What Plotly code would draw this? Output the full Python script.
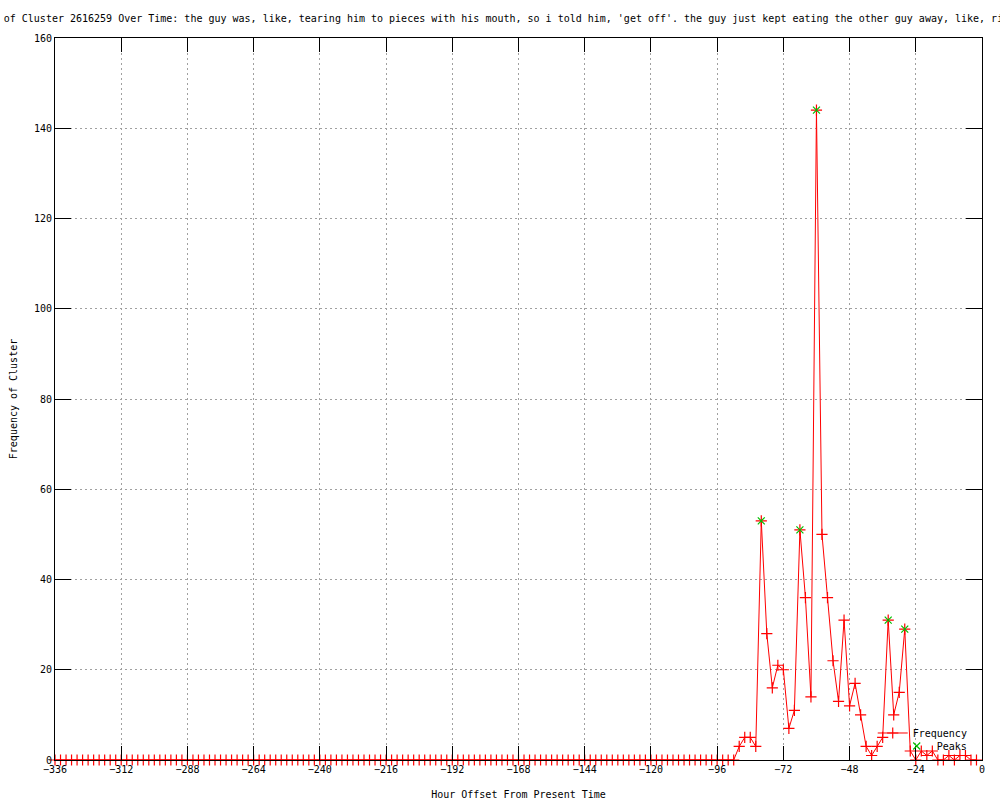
import plotly.graph_objects as go

# ---- data ----
hours = [-336, -334, -332, -330, -328, -326, -324, -322, -320, -318, -316, -314,
         -312, -310, -308, -306, -304, -302, -300, -298, -296, -294, -292, -290,
         -288, -286, -284, -282, -280, -278, -276, -274, -272, -270, -268, -266,
         -264, -262, -260, -258, -256, -254, -252, -250, -248, -246, -244, -242,
         -240, -238, -236, -234, -232, -230, -228, -226, -224, -222, -220, -218,
         -216, -214, -212, -210, -208, -206, -204, -202, -200, -198, -196, -194,
         -192, -190, -188, -186, -184, -182, -180, -178, -176, -174, -172, -170,
         -168, -166, -164, -162, -160, -158, -156, -154, -152, -150, -148, -146,
         -144, -142, -140, -138, -136, -134, -132, -130, -128, -126, -124, -122,
         -120, -118, -116, -114, -112, -110, -108, -106, -104, -102, -100, -98,
         -96, -94, -92, -90, -88, -86, -84, -82, -80, -78, -76, -74,
         -72, -70, -68, -66, -64, -62, -60, -58, -56, -54, -52, -50,
         -48, -46, -44, -42, -40, -38, -36, -34, -32, -30, -28, -26,
         -24, -22, -20, -18, -16, -14, -12, -10, -8, -6, -4, -2]

frequency = [0, 0, 0, 0, 0, 0, 0, 0, 0, 0, 0, 0,
             0, 0, 0, 0, 0, 0, 0, 0, 0, 0, 0, 0,
             0, 0, 0, 0, 0, 0, 0, 0, 0, 0, 0, 0,
             0, 0, 0, 0, 0, 0, 0, 0, 0, 0, 0, 0,
             0, 0, 0, 0, 0, 0, 0, 0, 0, 0, 0, 0,
             0, 0, 0, 0, 0, 0, 0, 0, 0, 0, 0, 0,
             0, 0, 0, 0, 0, 0, 0, 0, 0, 0, 0, 0,
             0, 0, 0, 0, 0, 0, 0, 0, 0, 0, 0, 0,
             0, 0, 0, 0, 0, 0, 0, 0, 0, 0, 0, 0,
             0, 0, 0, 0, 0, 0, 0, 0, 0, 0, 0, 0,
             0, 0, 0, 0, 3, 5, 5, 3, 53, 28, 16, 21,
             20, 7, 11, 51, 36, 14, 144, 50, 36, 22, 13, 31,
             12, 17, 10, 3, 1, 3, 5, 31, 10, 15, 29, 2,
             0, 2, 1, 2, 0, 0, 1, 0, 1, 1, 0, 0]

peak_hours = [-80, -66, -60, -34, -28]
peak_values = [53, 51, 144, 31, 29]

x_ticks = [-336, -312, -288, -264, -240, -216, -192, -168, -144, -120, -96, -72, -48, -24, 0]
y_ticks = [0, 20, 40, 60, 80, 100, 120, 140, 160]

title_text = ("Distribution of Cluster 2616259 Over Time: the guy was, like, tearing him to pieces "
              "with his mouth, so i told him, 'get off'. the guy just kept eating the other guy away, "
              "like, right in front of me")

FONT = "DejaVu Sans Mono"

fig = go.Figure()
fig.add_trace(go.Scatter(
    x=hours, y=frequency, mode="lines+markers", name="Frequency",
    line=dict(color="#ff0000", width=1),
    marker=dict(symbol="cross-thin", size=8, line=dict(color="#ff0000", width=1.2)),
    cliponaxis=False, legend="legend",
))
fig.add_trace(go.Scatter(
    x=peak_hours, y=peak_values, mode="markers", name="Peaks",
    marker=dict(symbol="x-thin", size=7, line=dict(color="#00c000", width=1.2)),
    cliponaxis=False, legend="legend2",
))

axis_common = dict(
    showline=True, linecolor="black", linewidth=1, mirror="allticks",
    ticks="inside", tickcolor="black", tickwidth=1,
    showgrid=True, gridcolor="#a0a0a0", griddash="2px,3px", gridwidth=1,
    zeroline=False, automargin=False,
    tickfont=dict(family=FONT, size=10, color="black"),
    title_font=dict(family=FONT, size=10, color="black"),
)

legend_common = dict(bgcolor="rgba(0,0,0,0)", font=dict(family=FONT, size=10, color="black"),
                     itemwidth=30, yanchor="middle", xanchor="right")

fig.update_layout(
    width=1000, height=800,
    margin=dict(l=55, r=18, t=38, b=40, pad=0),
    paper_bgcolor="white", plot_bgcolor="white",
    font=dict(family=FONT, size=10, color="black"),
    title=dict(text=title_text, x=0.5, xref="paper", xanchor="center",
               y=1 - 18 / 800, yref="container", yanchor="middle",
               font=dict(family=FONT, size=10, color="black")),
    xaxis=dict(range=[-336, 0], tickvals=x_ticks, ticklen=14,
               title=dict(text="Hour Offset From Present Time", standoff=17), **axis_common),
    yaxis=dict(range=[0, 160], tickvals=y_ticks, ticklen=16,
               title=dict(text="Frequency of Cluster", standoff=14), **axis_common),
    legend=dict(x=0.99, y=0.0374, **legend_common),
    legend2=dict(x=0.99, y=0.0194, **legend_common),
    showlegend=True,
)

fig.write_html("out.html", config={"displayModeBar": False},
               post_script="document.body.style.margin='0';")
